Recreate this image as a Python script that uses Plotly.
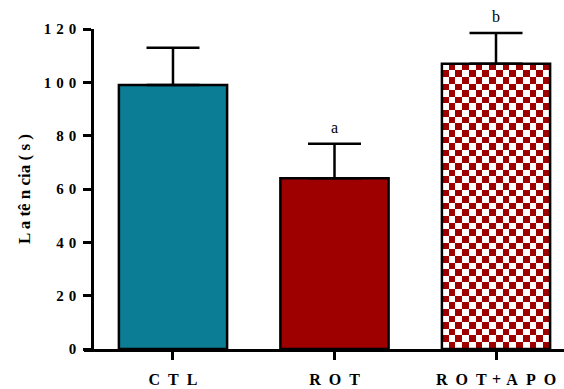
import numpy as np
import plotly.graph_objects as go

# Latency per group (mean and SEM, seconds)
groups = ["CTL", "ROT", "ROT+APO"]
group_labels = ["C\u2002T\u2002L", "R\u2002O\u2002T", "R\u2002O\u2002T\u2004+\u2004A\u2002P\u2002O"]
means = [99, 64, 107]
sems = [14, 13, 11.5]
letters = ["", "a", "b"]
y_ticks = [0, 20, 40, 60, 80, 100, 120]
y_tick_labels = ["0", "2\u20040", "4\u20040", "6\u20040", "8\u20040",
                 "1\u20040\u20040", "1\u20042\u20040"]
y_title = "L a tê n cia ( s )"

teal = "#0B7E96"
dark_red = "#9E0000"
bar_width = 0.67
x_pos = list(range(len(groups)))

fig = go.Figure()

# Checkerboard fill for the ROT+APO bar, built on the bar's own extent
half = bar_width / 2
nx = 16
ny = int(round(means[2] / 2.5))
xe = np.linspace(x_pos[2] - half, x_pos[2] + half, nx + 1)
ye = np.linspace(0, means[2], ny + 1)
zz = (np.add.outer(np.arange(ny), np.arange(nx)) % 2).astype(float)
fig.add_trace(go.Heatmap(
    x=xe, y=ye, z=zz, zmin=0, zmax=1,
    colorscale=[[0, "white"], [1, dark_red]],
    showscale=False, hoverinfo="skip", zsmooth=False,
))

fig.add_trace(go.Bar(
    x=x_pos, y=means, width=bar_width,
    marker=dict(color=[teal, dark_red, "rgba(0,0,0,0)"],
                line=dict(color="black", width=2.5)),
    error_y=dict(type="data", symmetric=False, array=sems,
                 arrayminus=[0, 0, 0], color="black",
                 thickness=2.5, width=26.5),
    hoverinfo="skip",
))

for xi, m, s, t in zip(x_pos, means, sems, letters):
    if t:
        fig.add_annotation(x=xi, y=m + s, text=t, showarrow=False,
                           yanchor="bottom", yshift=6,
                           font=dict(family="Liberation Serif", size=16,
                                     color="black"))

fig.update_layout(
    width=564, height=389,
    margin=dict(l=84, r=0, t=29, b=40),
    plot_bgcolor="white", paper_bgcolor="white",
    showlegend=False,
    font=dict(family="Liberation Serif", color="black"),
    xaxis=dict(
        range=[-0.551, 2.421], tickmode="array",
        tickvals=x_pos, ticktext=[f"<b>{g}</b>" for g in group_labels],
        showline=True, linecolor="black", linewidth=2.5,
        ticks="outside", ticklen=8, tickwidth=2.5, tickcolor="black",
        ticklabelstandoff=6,
        tickfont=dict(family="Liberation Serif", size=16, color="black"),
        showgrid=False, zeroline=False, fixedrange=True,
    ),
    yaxis=dict(
        range=[0, 120], tickmode="array", tickvals=y_ticks,
        ticktext=[f"<b>{t}</b>" for t in y_tick_labels],
        anchor="free", position=8 / 480,
        showline=True, linecolor="black", linewidth=2.5,
        ticks="outside", ticklen=8, tickwidth=2.5, tickcolor="black",
        ticklabelstandoff=4,
        tickfont=dict(family="Liberation Serif", size=15, color="black"),
        showgrid=False, zeroline=False, fixedrange=True,
        title=dict(text=f"<b>{y_title}</b>", standoff=7,
                   font=dict(family="Liberation Serif", size=17,
                             color="black")),
    ),
)

fig.write_html("out.html")
